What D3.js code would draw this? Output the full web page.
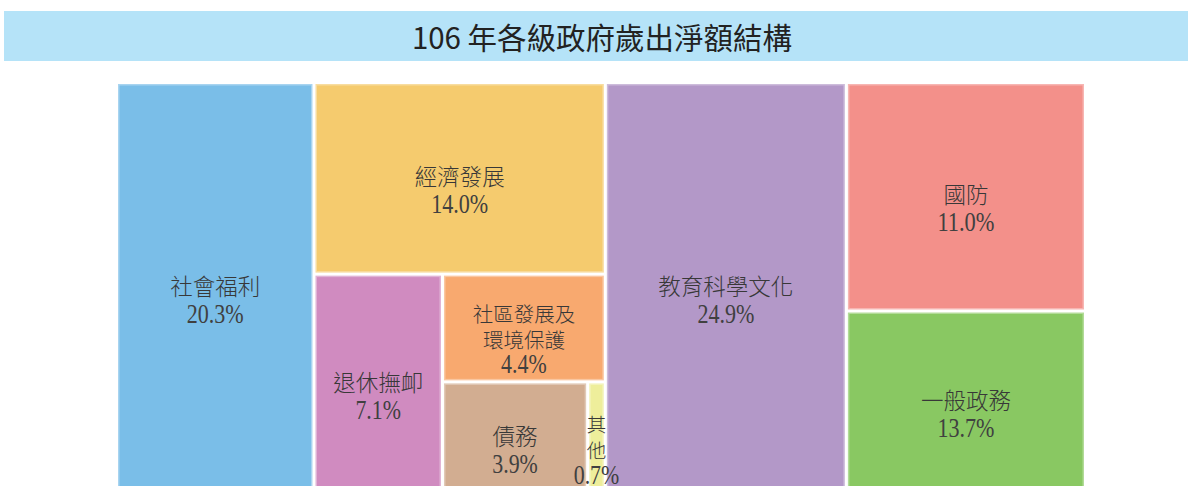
<!DOCTYPE html>
<html>
<head>
<meta charset="utf-8">
<script src="https://cdn.jsdelivr.net/npm/d3@7/dist/d3.min.js"></script>
<style>
  html, body { margin: 0; padding: 0; background: #fff; }
  svg { display: block; }
</style>
</head>
<body>
<svg id="chart" width="1188" height="486"></svg>
<script>
const title = "106 年各級政府歲出淨額結構";

// leaves, in drawing order
const names = ["社會福利", "經濟發展", "退休撫卹", "社區發展及環境保護", "債務", "其他", "教育科學文化", "國防", "一般政務"];
const pct = [20.3, 14.0, 7.1, 4.4, 3.9, 0.7, 24.9, 11.0, 13.7];
// tile areas as drawn in the picture (not quite the labelled shares)
const tileSize = [20.4, 14.0, 7.1, 4.4, 4.1, 0.5, 24.9, 13.7, 11.0];
const colors = ["#7ABEE8", "#F5CB6E", "#D08BC0", "#F8A96F", "#D2AD91", "#EEEE9B", "#B398C8", "#F3908A", "#89C862"];
// nesting of the tiles (indexes into the arrays above)
const nest = [0, [1, [2, [3, [4, 5]]]], 6, [7, 8]];

const svg = d3.select("#chart");
const W = 1188;

// ---------- title bar ----------
svg.append("rect").attr("x", 4).attr("y", 11).attr("width", W - 4).attr("height", 50).attr("fill", "#B5E3F8");
svg.append("text")
  .attr("x", 602).attr("y", 36)
  .attr("text-anchor", "middle").attr("dominant-baseline", "central")
  .attr("font-family", "'Noto Sans CJK TC', 'Noto Sans', sans-serif")
  .attr("font-size", 29.5).attr("fill", "#222")
  .text(title);

// ---------- treemap ----------
const box = { x: 118, y: 84, w: 966, h: 409 };
const build = (n) => Array.isArray(n) ? { children: n.map(build) } : { i: n };
const root = d3.hierarchy(build(nest)).sum((d) => d.i != null ? tileSize[d.i] : 0);
d3.treemap().tile(d3.treemapSliceDice).size([box.w, box.h]).paddingInner(3)(root);

const g = svg.append("g").attr("transform", `translate(${box.x},${box.y})`);
const leaves = root.leaves();

g.selectAll("rect.tile")
  .data(leaves)
  .join("rect")
  .attr("class", "tile")
  .attr("x", (d) => d.x0).attr("y", (d) => d.y0)
  .attr("width", (d) => d.x1 - d.x0).attr("height", (d) => d.y1 - d.y0)
  .attr("fill", (d) => colors[d.data.i])
  .attr("stroke", "rgba(255,255,255,0.35)").attr("stroke-width", 3);

// split a name into lines that fit the tile
function wrap(name, w, fs) {
  const per = Math.max(1, Math.floor((w - 32) / fs));
  if (name.length <= per) return [name];
  const n = Math.ceil(name.length / per);
  const size = Math.ceil(name.length / n);
  const out = [];
  for (let k = 0; k < name.length; k += size) out.push(name.slice(k, k + size));
  return out;
}

const fmt = d3.format(".1f");
leaves.forEach((d) => {
  const i = d.data.i, w = d.x1 - d.x0;
  let fs = 22.5;
  let lines = wrap(names[i], w, fs);
  if (lines.length > 1) { fs = w < 40 ? 19.5 : 20.5; lines = wrap(names[i], w, fs); }
  const lh = lines.length > 1 ? 25.5 : 29;
  const all = lines.concat([fmt(pct[i]) + "%"]);
  const cx = (d.x0 + d.x1) / 2, cy = (d.y0 + d.y1) / 2 + 11;
  const top = cy - ((all.length - 1) * lh) / 2;
  all.forEach((s, k) => {
    const isPct = k === all.length - 1;
    const t = g.append("text")
      .attr("x", cx).attr("y", top + k * lh)
      .attr("text-anchor", "middle").attr("dominant-baseline", "central")
      .attr("fill", "#383838")
      .text(s);
    if (isPct) {
      t.attr("font-family", "'Liberation Serif', 'DejaVu Serif', serif")
        .attr("font-size", 27).attr("fill", "#404040")
        .attr("textLength", s.length * 11.4).attr("lengthAdjust", "spacingAndGlyphs");
    } else {
      t.attr("font-family", "'Noto Sans CJK TC', sans-serif")
        .attr("font-weight", 300)
        .attr("font-size", fs);
    }
  });
});
</script>
</body>
</html>
